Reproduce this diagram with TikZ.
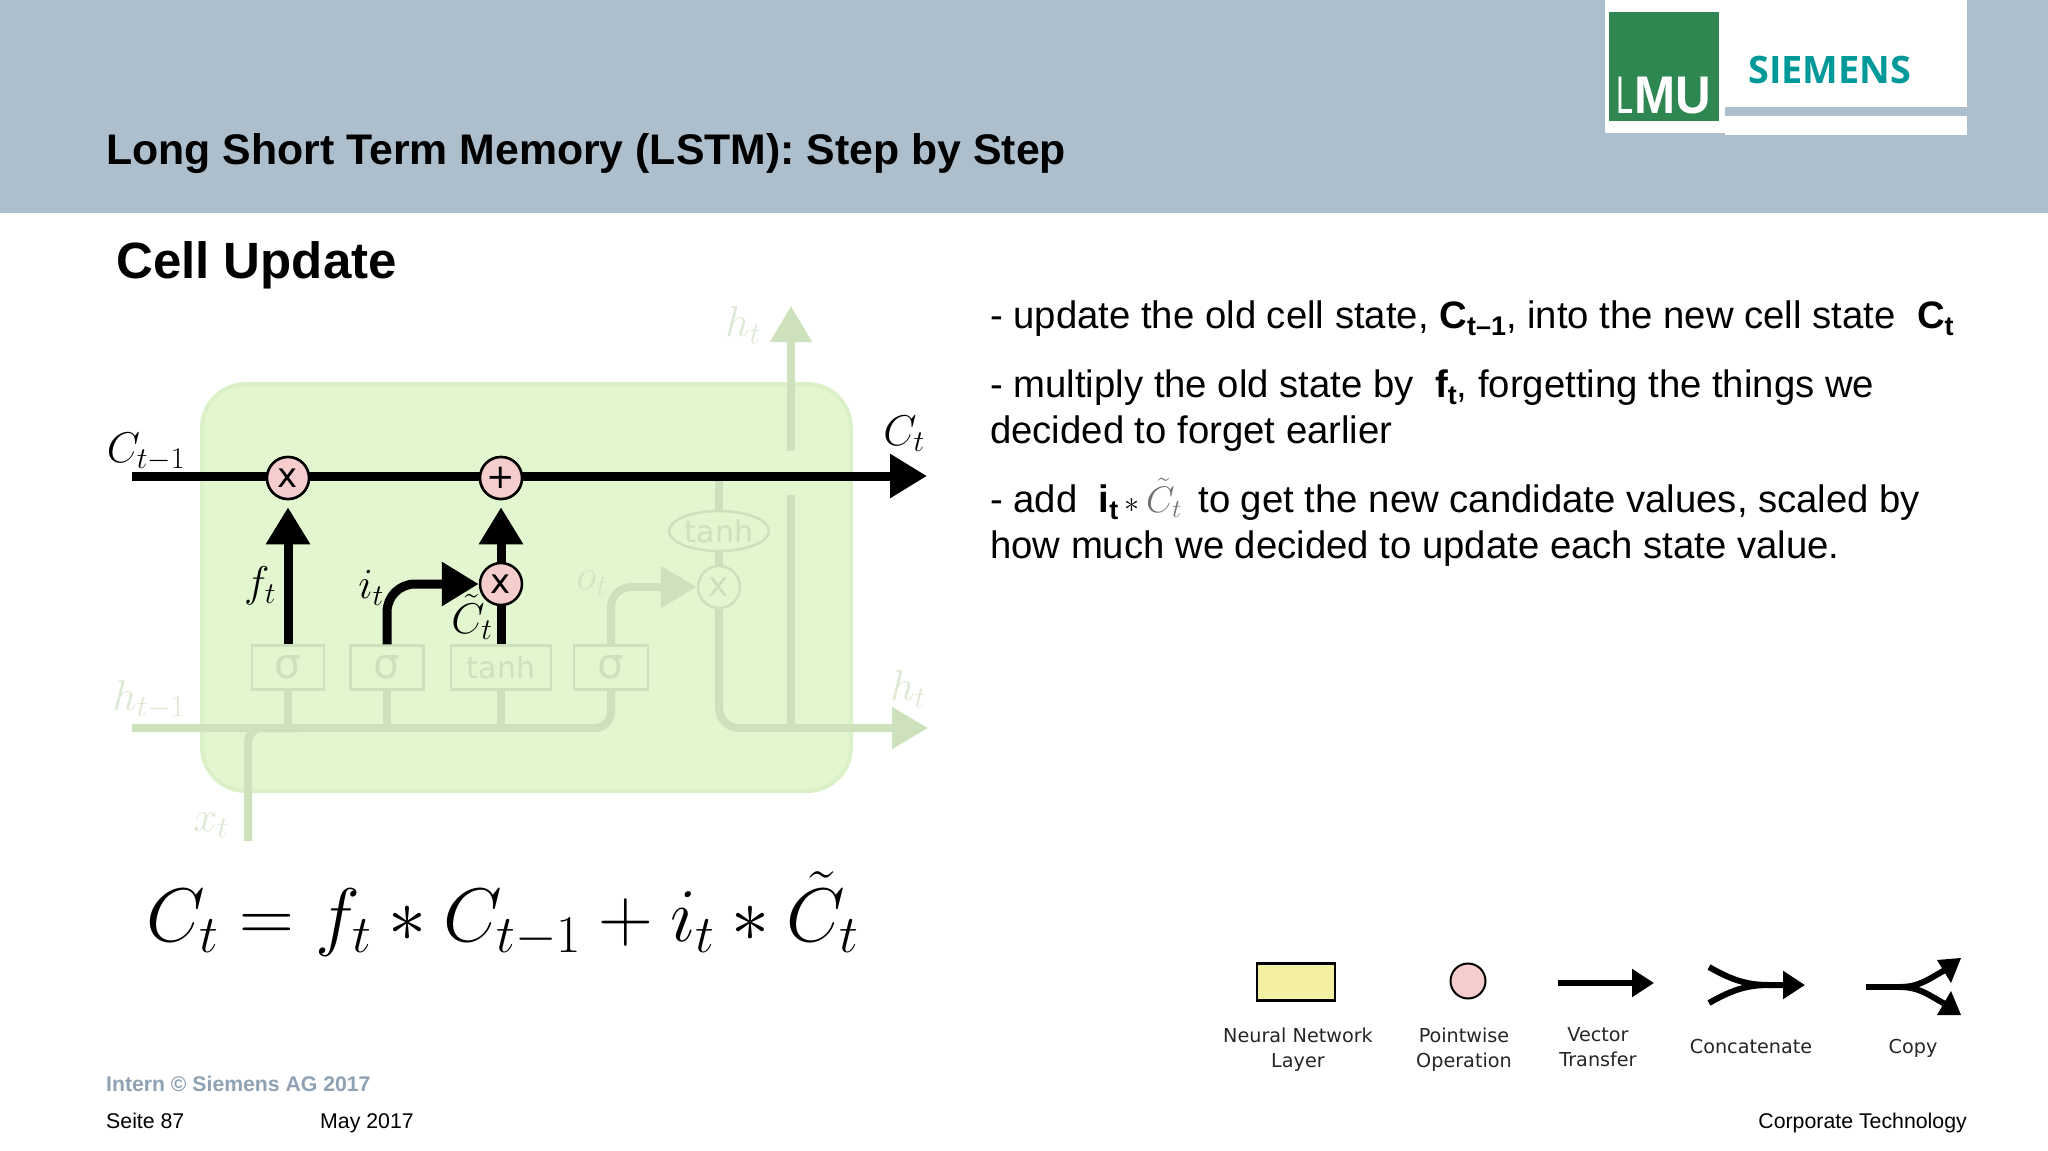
\RequirePackage{fix-cm}
\documentclass[tikz,border=0pt]{standalone}
\usepackage[no-math]{fontspec}
\setmainfont{Liberation Sans}
\newfontfamily\djv{DejaVu Sans}
\newfontfamily\opn{Open Sans}
\usetikzlibrary{arrows.meta,shapes.geometric}
\definecolor{band}{HTML}{ADBECC}
\definecolor{cellfill}{HTML}{E2F6D0}
\definecolor{cellline}{HTML}{DAF0C6}
\definecolor{fadeline}{HTML}{CDE2BC}
\definecolor{fadetext}{HTML}{D2E6C2}
\definecolor{fadeout}{HTML}{DDE9D3}
\definecolor{pinkop}{HTML}{F6CDCD}
\definecolor{yellowop}{HTML}{F4F0A2}
\definecolor{foot}{HTML}{8FA2B4}
\definecolor{siem}{HTML}{009999}
\definecolor{logog}{HTML}{2E8651}
\newcommand{\fsz}[1]{\fontsize{#1}{#1}\selectfont}
\newcommand{\bsub}[2]{\textbf{#1\raisebox{-7pt}{\fsz{27}#2}}}
\tikzset{
  bigline/.style={line width=9pt,black},
  tipb/.style={-{Triangle[length=37pt,width=42pt]}},
  tipf/.style={-{Triangle[length=36pt,width=40pt]}},
  fade/.style={line width=8pt,fadeline},
  op/.style={circle,draw=black,line width=2.5pt,fill=pinkop,minimum size=42pt,inner sep=0pt,font=\djv\fsz{34}},
  opf/.style={circle,draw=fadeline,line width=2.5pt,fill=cellfill,minimum size=42pt,inner sep=0pt,text=fadeline,font=\djv\fsz{34}},
  boxf/.style={rectangle,draw=fadeline,line width=2.5pt,fill=cellfill,inner sep=0pt,text=fadeline},
  ellf/.style={ellipse,draw=fadeline,line width=2.5pt,fill=cellfill,inner sep=0pt,text=fadeline},
  lab/.style={inner sep=0pt,font=\fsz{43}},
  body/.style={anchor=base west,inner sep=0pt,font=\fsz{38.3}},
  legt/.style={inner sep=0pt,align=center,font=\djv\fsz{19.2},text=black!85},
  legl/.style={line width=6pt,black},
  tipl/.style={-{Triangle[length=22pt,width=27pt]}},
}
\begin{document}
\begin{tikzpicture}[x=1pt,y=-1pt]
\useasboundingbox (0,0) rectangle (2048,1151);
\fill[white] (0,0) rectangle (2048,1151);
% header
\fill[band] (0,0) rectangle (2048,213);
\fill[white] (1605,0) rectangle (1967,107);
\fill[white] (1605,107) rectangle (1725,133);
\fill[white] (1725,116) rectangle (1967,135);
\fill[logog] (1609,12) rectangle (1719,121);
\node[anchor=base west,inner sep=0pt,text=white,font=\fsz{53}] (lmuL) at (1616,113) {\scalebox{.58}[1]{L}};
\node[anchor=base west,inner sep=0pt,text=white,font=\bfseries\fsz{53}] (lmuM) at (1634,113) {\scalebox{.93}[1]{MU}};
\node[anchor=base west,inner sep=0pt,text=siem,font=\opn\bfseries\fsz{37.8}] (siemens) at (1748,83) {SIEMENS};
\node[anchor=base west,inner sep=0pt,font=\bfseries\fsz{42.8}] (title) at (106,164) {Long Short Term Memory (LSTM): Step by Step};
\node[anchor=base west,inner sep=0pt,font=\bfseries\fsz{51}] (sub) at (116,278) {Cell Update};
% cell
\draw[cellline,fill=cellfill,line width=4pt,rounded corners=44pt] (202,384) rectangle (851,791);
% coordinates
\coordinate (cstart) at (132,476);
\coordinate (cend) at (927,476);
\coordinate (hstart) at (132,728);
\coordinate (hend) at (928,728);
\coordinate (xstart) at (248,841);
\coordinate (xjoin) at (300,728);
\coordinate (upbase) at (791,728);
\coordinate (upgapa) at (791,495);
\coordinate (upgapb) at (791,451);
\coordinate (uptip) at (791,306);
\coordinate (ctap) at (723,481);
\coordinate (j1) at (288,728);
\coordinate (j2) at (387,728);
\coordinate (j3) at (501,728);
% faded nodes
\node[boxf,minimum width=72pt,minimum height=44pt,font=\djv\fsz{42}] (s1) at (288,667.5) {σ};
\node[boxf,minimum width=73pt,minimum height=44pt,font=\djv\fsz{42}] (s2) at (387,667.5) {σ};
\node[boxf,minimum width=100pt,minimum height=44pt,font=\djv\fsz{30}] (tn) at (501,667.5) {tanh};
\node[boxf,minimum width=74pt,minimum height=44pt,font=\djv\fsz{42}] (s3) at (611,667.5) {σ};
\node[opf] (fx) at (719,587) {x};
\node[ellf,minimum width=100pt,minimum height=40pt,font=\djv\fsz{30}] (te) at (719,531) {tanh};
% faded connectors
\draw[fade] (s1) -- (j1);
\draw[fade] (s2) -- (j2);
\draw[fade] (tn) -- (j3);
\draw[fade,rounded corners=16pt] (hstart) -| (s3.south);
\draw[fade,rounded corners=14pt] (xstart) |- (xjoin);
\draw[fade,rounded corners=20pt,tipf] (s3.north) |- (fx.west);
\draw[fade] (ctap -| te) -- (te.north);
\draw[fade] (te.south) -- (fx.north);
\draw[fade,rounded corners=20pt,tipf] (fx.south) |- (hend);
\draw[fade] (upbase) -- (upgapa);
\draw[fade,tipf] (upgapb) -- (uptip);
% black nodes
\node[op] (c1) at (288,478) {x};
\node[op] (c2) at (501,478) {+};
\node[op] (cx) at (501,584) {x};
% black connectors
\draw[bigline,tipb] (cstart) -- (cend);
\node[op] at (c1) {x};
\node[op] at (c2) {+};
\draw[bigline,tipb,shorten >=7pt] (s1.north) -- (c1.south);
\draw[bigline] (tn.north) -- (cx.south);
\draw[bigline,tipb,shorten >=7pt] (cx.north) -- (c2.south);
\draw[bigline,rounded corners=28pt,tipb] (s2.north) |- (cx.west);
% labels
\node[lab] (lc1) at (146,452) {$C_{t-1}$};
\node[lab] (lc2) at (904,434) {$C_t$};
\node[lab,text=fadeout] (lh1) at (149,700) {$h_{t-1}$};
\node[lab,text=fadeout] (lh2) at (908,689) {$h_t$};
\node[lab,text=fadeout] (lh3) at (743,325) {$h_t$};
\node[lab,text=fadeout] (lx) at (211,825) {$x_t$};
\node[lab] (lf) at (260,586) {$f_t$};
\node[lab] (li) at (371,588) {$i_t$};
\node[lab] (lct) at (472,617) {$\tilde{C}_t$};
\node[lab,text=fadetext] (lo) at (592,583) {$o_t$};
% equation
\node[inner sep=0pt,anchor=base west,font=\fsz{76}] (eq) at (146,941) {$C_t = f_t * C_{t-1} + i_t * \tilde{C}_t$};
% body text
\node[body] (t1) at (990,328) {- update the old cell state, \bsub{C}{t–1}, into the new cell state\ \ \bsub{C}{t}};
\node[body] (t2) at (990,397) {- multiply the old state by\ \ \bsub{f}{t}, forgetting the things we};
\node[body] (t3) at (990,443) {decided to forget earlier};
\node[body] (t4) at (990,512) {- add\ \ \bsub{i}{t}\,{\fsz{30}$*$}\,{\color{black!55}\fsz{37}$\tilde{C}_t$}\hspace{6pt}\ to get the new candidate values, scaled by};
\node[body] (t5) at (990,558) {how much we decided to update each state value.};
% legend
\node[rectangle,draw=black,line width=2.5pt,fill=yellowop,minimum width=78pt,minimum height=37pt,inner sep=0pt] (lgr) at (1296,982) {};
\node[circle,draw=black,line width=2pt,fill=pinkop,minimum size=35pt,inner sep=0pt] (lgc) at (1468,981) {};
\coordinate (va) at (1558,983);
\coordinate (vb) at (1654,983);
\draw[legl,tipl] (va) -- (vb);
\coordinate (ca) at (1709,967);
\coordinate (cb) at (1709,1003);
\coordinate (cm) at (1770,985);
\coordinate (ce) at (1805,985);
\draw[legl,tipl] (ca) .. controls (1735,982) and (1750,985) .. (cm) -- (ce);
\draw[legl] (cb) .. controls (1735,988) and (1750,985) .. (cm);
\coordinate (da) at (1866,987);
\coordinate (dm) at (1900,987);
\coordinate (dt) at (1961,958);
\coordinate (db) at (1961,1015);
\draw[legl] (da) -- (dm);
\draw[legl] (dm) .. controls (1920,987) and (1930,978) .. (1945,970);
\draw[legl] (dm) .. controls (1920,987) and (1930,996) .. (1945,1004);
\fill[black] (dt) -- (1937,960) -- (1951,983) -- cycle;
\fill[black] (db) -- (1937,1015) -- (1951,991) -- cycle;
\node[legt] (l1) at (1298,1050) {Neural Network\\[6pt]Layer};
\node[legt] (l2) at (1464,1050) {Pointwise\\[6pt]Operation};
\node[legt] (l3) at (1598,1047.5) {Vector\\[6pt]Transfer};
\node[legt] (l4) at (1751,1046) {Concatenate};
\node[legt] (l5) at (1913,1048) {Copy};
% footer
\node[anchor=base west,inner sep=0pt,text=foot,font=\bfseries\fsz{21.2}] (f1) at (106,1091) {Intern © Siemens AG 2017};
\node[anchor=base west,inner sep=0pt,font=\fsz{21.3}] (f2) at (106,1128) {Seite 87};
\node[anchor=base west,inner sep=0pt,font=\fsz{21.3}] (f3) at (320,1128) {May 2017};
\node[anchor=base east,inner sep=0pt,font=\fsz{21.3}] (f4) at (1967,1128) {Corporate Technology};
\end{tikzpicture}
\end{document}
